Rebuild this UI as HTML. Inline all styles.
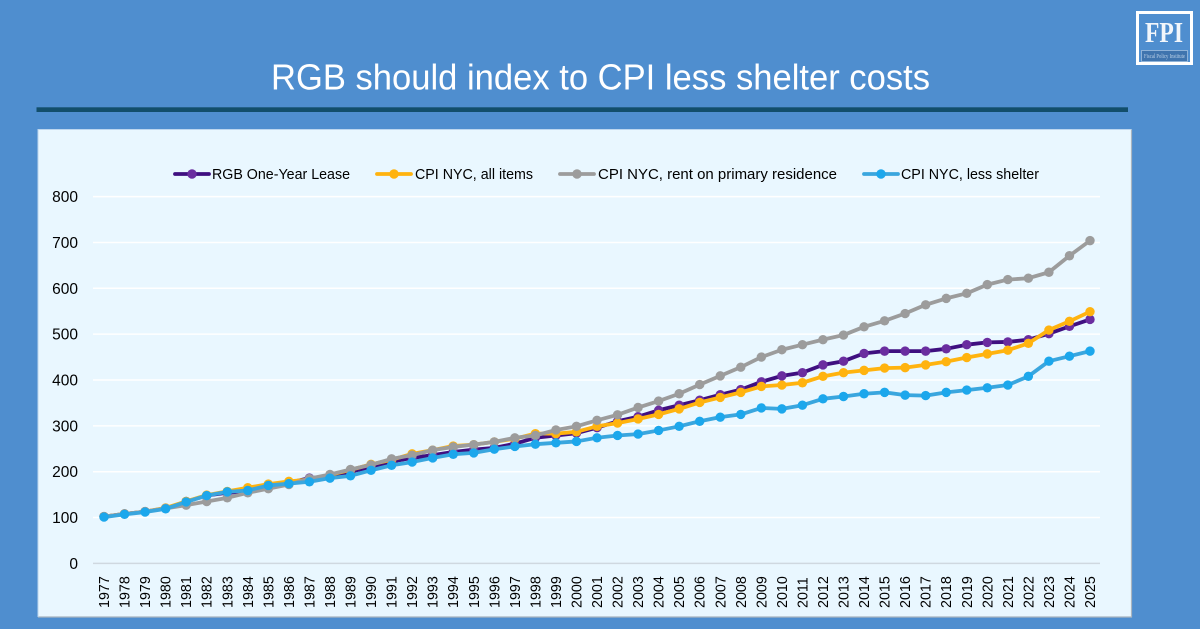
<!DOCTYPE html>
<html>
<head>
<meta charset="utf-8">
<title>RGB should index to CPI less shelter costs</title>
<style>
html,body{margin:0;padding:0;background:#4f8ecf;}
svg{display:block;font-family:"Liberation Sans",sans-serif;}
</style>
</head>
<body>
<svg id="chart" width="1200" height="629" viewBox="0 0 1200 629" xmlns="http://www.w3.org/2000/svg">
  <rect x="0" y="0" width="1200" height="629" fill="#4f8ecf"/>
  <text x="271" y="89.5" font-size="36" fill="#ffffff" textLength="659" lengthAdjust="spacingAndGlyphs">RGB should index to CPI less shelter costs</text>
  <rect x="36.5" y="107.3" width="1091.5" height="4.7" fill="#124e6b"/>
  <g>
    <rect x="1137.5" y="12.5" width="54" height="51" fill="#4f8ecf" stroke="#ffffff" stroke-width="3"/>
    <text x="1145" y="42" font-family="'Liberation Serif',serif" font-weight="bold" font-size="28" fill="#f2f6fb" textLength="38" lengthAdjust="spacingAndGlyphs">FPI</text>
    <rect x="1141.5" y="50.5" width="46" height="11" fill="#3f74ae" stroke="#8fb3d9" stroke-width="1"/>
    <text x="1144" y="58" font-family="'Liberation Serif',serif" font-size="6" fill="#b9cfe6" textLength="41" lengthAdjust="spacingAndGlyphs">Fiscal Policy Institute</text>
  </g>
  <rect x="38" y="129.5" width="1093.5" height="487.5" fill="#e9f7ff"/>
  <path d="M38 617 H1131.5 V129.5" fill="none" stroke="#a9b4bf" stroke-width="1.2"/>
  <path d="M38 617 V129.5 H1131.5" fill="none" stroke="#bcd6ee" stroke-width="1"/>
  <g id="grid"></g>
  <g id="yticks"></g>
  <g id="xticks"></g>
  <g id="series"></g>
  <g id="legend"></g>
</svg>
<script>
var years = [1977,1978,1979,1980,1981,1982,1983,1984,1985,1986,1987,1988,1989,1990,1991,1992,1993,1994,1995,1996,1997,1998,1999,2000,2001,2002,2003,2004,2005,2006,2007,2008,2009,2010,2011,2012,2013,2014,2015,2016,2017,2018,2019,2020,2021,2022,2023,2024,2025];
var yTickValues = [0,100,200,300,400,500,600,700,800];
var rgbLease = [102,108,113,120,135,148,154,157,168,176,186,190,200,210,222,230,236,243,248,252,261,274,279,284,296,310,320,334,345,356,368,379,396,409,416,433,441,458,463,463,463,468,477,482,483,488,501,517,532];
var cpiAll = [102,108,113,121,135,149,157,165,173,179,183,193,204,216,226,239,247,256,259,265,272,283,283,287,299,306,315,325,337,351,362,373,386,389,394,408,416,421,426,427,433,440,449,457,465,480,509,528,549];
var cpiRent = [102,108,113,120,127,135,143,154,163,172,185,194,205,215,228,236,247,254,259,265,274,279,291,299,312,324,340,354,370,390,409,428,450,466,477,488,498,516,529,545,564,578,589,608,619,622,635,671,704];
var cpiLessShelter = [101,107,112,119,134,148,156,159,170,174,178,186,191,203,214,221,230,238,241,249,255,260,263,266,274,279,282,290,299,310,319,325,339,337,345,359,364,370,373,367,366,373,378,383,389,408,441,452,463];
var seriesNames = ["RGB One-Year Lease","CPI NYC, all items","CPI NYC, rent on primary residence","CPI NYC, less shelter"];
var seriesValues = [rgbLease,cpiAll,cpiRent,cpiLessShelter];
var lineColors = ["#3f0f80","#ffb30f","#9c9c9c","#3aa6de"];
var markerColors = ["#6a2d9f","#ffb30f","#9c9c9c","#1ca7ec"];

var NS = "http://www.w3.org/2000/svg";
function xScale(i){ return 104 + (1090 - 104) * i / (years.length - 1); }
function yScale(v){ return 563.4 - v * (563.4 - 196.6) / 800; }
function make(tag, attrs, parent){
  var el = document.createElementNS(NS, tag);
  for (var k in attrs) el.setAttribute(k, attrs[k]);
  parent.appendChild(el);
  return el;
}

var gridG = document.getElementById("grid");
var yG = document.getElementById("yticks");
yTickValues.forEach(function(v){
  var y = yScale(v);
  var line = make("line", {x1:93, x2:1100, y1:y, y2:y, stroke: v === 0 ? "#cfd8e0" : "#ffffff", "stroke-width":1.5}, gridG);
  
  
  var t = make("text", {x:78, y:y + 5.5, "text-anchor":"end", "font-size":15.5, fill:"#000000"}, yG);
  
  
  t.textContent = v;
});

var xG = document.getElementById("xticks");
years.forEach(function(yr, i){
  var x = xScale(i) + 5;
  var t = make("text", {x:x, y:608, "font-size":14.3, fill:"#000000", transform:"rotate(-90 " + x + " 608)"}, xG);
  
  
  t.textContent = yr;
});

var sG = document.getElementById("series");
seriesValues.forEach(function(vals, s){
  var g = make("g", {}, sG);
  
  
  var pts = vals.map(function(v, i){ return xScale(i).toFixed(2) + "," + yScale(v).toFixed(2); }).join(" ");
  var pl = make("polyline", {points:pts, fill:"none", stroke:lineColors[s], "stroke-width":3.8, "stroke-linejoin":"round", "stroke-linecap":"round"}, g);
  
  
  vals.forEach(function(v, i){
    var c = make("circle", {cx:xScale(i), cy:yScale(v), r:4.7, fill:markerColors[s]}, g);
    
    
  });
});

var legendG = document.getElementById("legend");
var legendLineStart = [175,377,560,864];
var legendTextStart = [212,415,598,901];
var legendTextWidth = [138,118,239,138];
seriesNames.forEach(function(name, s){
  var x0 = legendLineStart[s];
  var l = make("line", {x1:x0, x2:x0 + 34, y1:174, y2:174, stroke:lineColors[s], "stroke-width":3.8, "stroke-linecap":"round"}, legendG);
  
  
  var c = make("circle", {cx:x0 + 17, cy:174, r:4.7, fill:markerColors[s]}, legendG);
  
  
  var t = make("text", {x:legendTextStart[s], y:179, "font-size":14.5, fill:"#000000", textLength:legendTextWidth[s], lengthAdjust:"spacingAndGlyphs"}, legendG);
  
  
  t.textContent = name;
});
</script>
</body>
</html>
